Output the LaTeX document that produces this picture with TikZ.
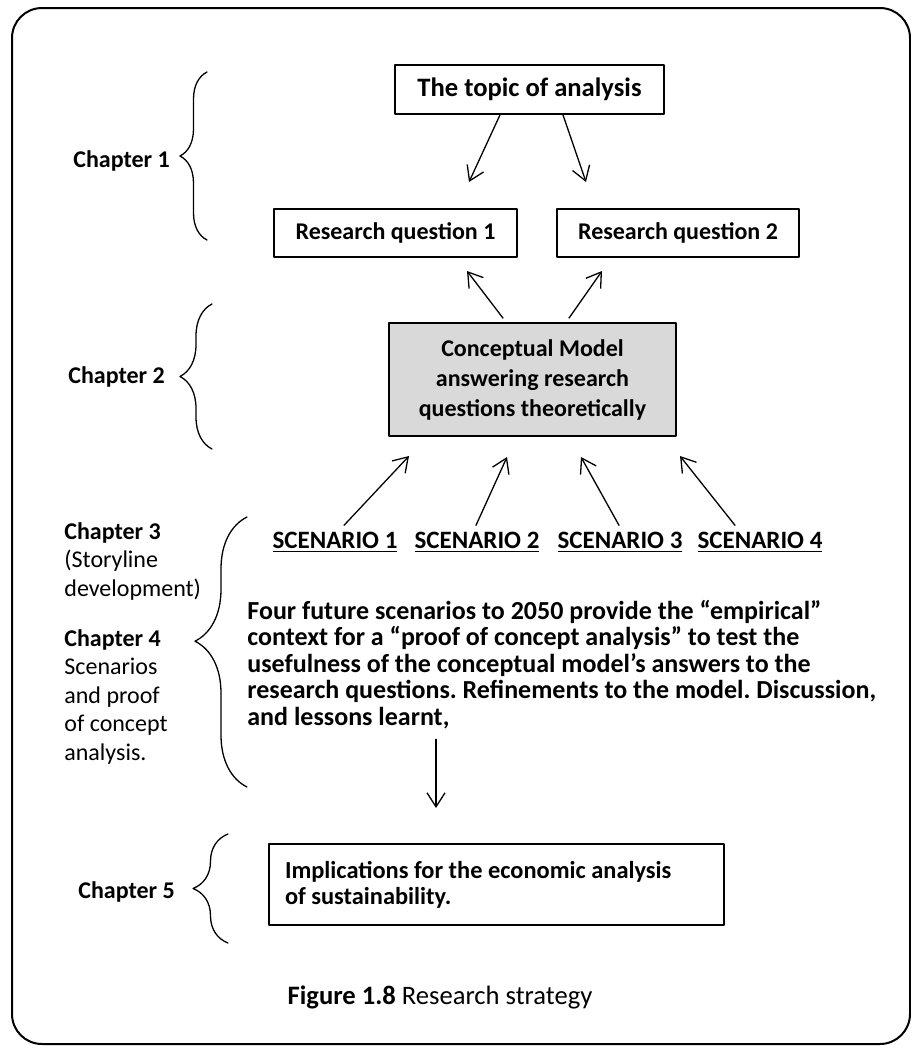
\documentclass[tikz,border=0pt]{standalone}
\usepackage{fontspec}
\setmainfont{Carlito}
\usepackage{xcolor}
\usepackage{tikz}
\usetikzlibrary{arrows.meta, decorations.pathreplacing, positioning}
\definecolor{modelgray}{RGB}{217,217,217}
\frenchspacing

\begin{document}
\begin{tikzpicture}[x=0.5pt, y=-0.5pt, line join=round, line cap=round,
    box/.style={draw, line width=0.9pt, inner sep=0pt, font=\bfseries\fontsize{12}{14}\selectfont},
    arr/.style={-{Straight Barb[length=7pt, width=9pt]}, line width=0.65pt},
    brc/.style={decorate, decoration={brace, amplitude=#1}, line width=0.65pt},
    chap/.style={anchor=west, inner sep=0pt, font=\bfseries\fontsize{12}{14}\selectfont},
    scen/.style={inner sep=0pt, font=\bfseries\fontsize{12.5}{14}\selectfont}]

        \useasboundingbox (0,0) rectangle (911,1046);

        % =========================
        % KHUNG NGOAI
        % =========================
        \draw[line width=1pt, rounded corners=15pt]
            (12,8) rectangle (910,1044);

        % =========================
        % CAC HOP
        % =========================
        \node[box, minimum width=134.5pt, minimum height=24.5pt,
              font=\bfseries\fontsize{13.3}{16}\selectfont] (topic) at (529.5,89.5) {The topic of analysis};

        \node[box, minimum width=121.5pt, minimum height=24pt] (rq1) at (395.5,233) {Research question 1};
        \node[box, minimum width=121pt, minimum height=24pt] (rq2) at (678,233) {Research question 2};

        \node[box, fill=modelgray, minimum width=143.5pt, minimum height=56.5pt, align=center,
              font=\bfseries\fontsize{12}{15}\selectfont] (model) at (532.5,379.5)
            {Conceptual Model\\answering research\\questions theoretically};

        \node[box, minimum width=227.5pt, minimum height=40.5pt, inner xsep=8pt,
              text width=211.5pt, align=flush left, font=\bfseries\fontsize{12.2}{13}\selectfont] (impl) at (496.5,884.5)
            {Implications for the economic analysis\\of sustainability.};

        % =========================
        % KICH BAN VA DOAN VAN
        % =========================
        \node[scen] (sc1) at (335,542) {\underline{SCENARIO 1}};
        \node[scen] (sc2) at (477,542) {\underline{SCENARIO 2}};
        \node[scen] (sc3) at (620,542) {\underline{SCENARIO 3}};
        \node[scen] (sc4) at (760,542) {\underline{SCENARIO 4}};

        \node[anchor=west, inner sep=0pt, align=left,
              font=\bfseries\fontsize{13}{13.25}\selectfont] (story) at (247,664.5)
            {Four future scenarios to 2050 provide the “empirical”\\
             context for a “proof of concept analysis” to test the\\
             usefulness of the conceptual model’s answers to the\\
             research questions. Refinements to the model. Discussion,\\
             and lessons learnt,};

        % =========================
        % NHAN CHUONG
        % =========================
        \node[chap] (ch1) at (73,161) {Chapter 1};
        \node[chap] (ch2) at (68,377) {Chapter 2};
        \node[chap] (ch5) at (78,892) {Chapter 5};

        \node[anchor=north west, inner sep=0pt, align=left,
              font=\fontsize{12}{14.2}\selectfont] (ch34) at (64,522)
            {\textbf{Chapter 3}\\(Storyline\\development)\\[11pt]
             \textbf{Chapter 4}\\Scenarios\\and proof\\of concept\\analysis.};

        \node[inner sep=0pt, font=\fontsize{13.3}{16}\selectfont] (caption) at (440,997)
            {\textbf{Figure 1.8} Research strategy};

        % =========================
        % NGOAC NHON
        % =========================
        \draw[brc=13.5pt] (207,240) -- (207,72);
        \draw[brc=16pt] (212,449) -- (212,304);
        \draw[decorate, decoration={brace, amplitude=26pt, aspect=0.54}, line width=0.65pt]
            (247,787) -- (247,517);
        \draw[brc=17.5pt] (228,943) -- (228,834);

        % =========================
        % MUI TEN
        % =========================
        \coordinate (t1) at (469,182);
        \coordinate (t2) at (586,182);
        \draw[arr] ([xshift=-14.75pt]topic.south) -- (t1);
        \draw[arr] ([xshift=16.75pt]topic.south) -- (t2);

        \coordinate (q1) at (467,271);
        \coordinate (q2) at (602,271);
        \draw[arr] ([xshift=-14.75pt, yshift=2pt]model.north) -- (q1);
        \draw[arr] ([xshift=18.25pt, yshift=2pt]model.north) -- (q2);

        \coordinate (m1) at (409,456);
        \coordinate (m2) at (507,457);
        \coordinate (m3) at (581,457);
        \coordinate (m4) at (680,456);
        \draw[arr] ([xshift=4.5pt, yshift=3pt]sc1.north) -- (m1);
        \draw[arr] ([xshift=-0.5pt, yshift=3pt]sc2.north) -- (m2);
        \draw[arr] ([xshift=-0.5pt, yshift=3pt]sc3.north) -- (m3);
        \draw[arr] ([xshift=-12.5pt, yshift=3pt]sc4.north) -- (m4);

        \coordinate (d1) at (436,808);
        \draw[arr, shorten <=5pt] (story.south -| d1) -- (d1);

\end{tikzpicture}
\end{document}
